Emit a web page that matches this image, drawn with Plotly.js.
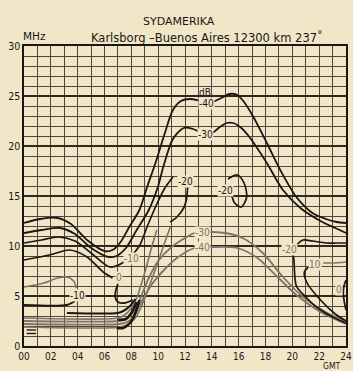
<!DOCTYPE html>
<html><head><meta charset="utf-8">
<script src="https://cdn.plot.ly/plotly-3.0.1.min.js"></script>
<style>html,body{margin:0;padding:0;background:#f2e6c8;}#chart{width:353px;height:371px;}</style>
</head><body><div id="chart"></div>
<script>
// hours (GMT) and frequencies (MHz), one pair per contour line
const hourTicks = [0,1,2,3,4,5,6,7,8,9,10,11,12,13,14,15,16,17,18,19,20,21,22,23,24];
const hourLabels = ['00','','02','','04','','06','','08','','10','','12','','14','','16','','18','','20','','22','','24'];

const m40_h = [0,1.2,2.5,3.5,4.7,6.0,6.6,7.2,7.8,8.6,9.2,9.8,10.5,11.1,11.7,12.4,13.2,14.0,14.7,15.3,15.9,16.4,17.1,18.1,19.1,20.3,21.5,22.5,23.3,24];
const m40_f = [12.3,12.7,12.8,12.2,10.6,9.5,9.6,10.4,11.8,13.6,16.0,18.3,21.3,23.6,24.5,24.7,24.5,24.4,24.8,25.2,25.1,24.4,22.9,20.3,17.6,14.9,13.3,12.7,12.4,12.3];

const m30_h = [0,1.3,2.7,3.8,5.0,6.3,6.9,7.6,8.4,9.3,10.0,10.4,11.1,11.9,12.6,13.3,14.0,14.6,15.1,15.6,16.2,16.8,18.1,19.3,20.6,22.1,23.2,24];
const m30_f = [11.3,11.6,11.8,11.2,9.8,8.9,9.0,9.8,11.6,13.6,16.0,18.0,20.7,21.8,21.7,21.3,21.3,21.9,22.3,22.3,21.8,20.9,18.3,15.6,13.8,12.5,11.8,11.3];

const m20a_h = [0,1.3,2.6,3.8,5.0,6.4,7.2,7.9,8.6,9.2,9.9,10.5,11.1];
const m20a_f = [10.3,10.6,10.9,10.5,9.3,7.9,8.2,8.9,10.0,12.0,14.2,15.8,16.9];
const m20b_h = [12.2,12.1,11.9,11.4,10.9];
const m20b_f = [15.9,14.6,13.8,12.9,12.4];
const m20loop_h = [15.2,15.9,16.4,16.6,16.2,15.7,15.5];
const m20loop_f = [16.7,17.1,16.3,14.9,13.9,14.3,15.0];
const m20r_h = [20.3,20.8,21.5,22.5,23.3,24];
const m20r_f = [10.1,10.6,10.5,10.3,10.3,10.3];
const m20d_h = [20.0,20.1,20.3,21.0,21.8,23.0,24];
const m20d_f = [9.2,8.8,6.0,4.9,3.9,2.9,2.3];

const z0_h = [0,1.9,3.4,4.7,5.9,6.6];
const z0_f = [8.6,9.1,9.6,8.9,7.4,6.8];
const z0curl_h = [7.0,6.85,6.8,7.0,7.5,8.1];
const z0curl_f = [6.2,5.6,4.9,4.4,4.3,4.6];
const z0r_h = [24,23.85,23.8,23.9,24];
const z0r_f = [6.6,6.0,5.2,4.2,3.6];

const p10r_h = [22.3,23.0,24];
const p10r_f = [8.3,8.3,8.4];
const p10d_h = [21.3,20.9,21.1,22.1,23.2,24];
const p10d_f = [8.0,7.4,6.3,4.6,3.2,2.5];

const m10_h = [0,1.5,2.5,3.2,3.7,3.9];
const m10_f = [5.9,6.3,6.8,6.9,6.5,5.8];
const low1_h = [0,3.2,3.8];
const low1_f = [4.1,4.1,4.5];
const low2_h = [3.2,7.0,7.4,7.9,8.3];
const low2_f = [3.3,3.3,3.5,4.0,4.7];

const g30_h = [0,7.0,7.6,8.1,8.5,8.8,9.3,10.0,11.0,12.0,12.7,13.3,14.0,15.0,16.3,17.8,19.3,20.8,22.6,24];
const g30_f = [2.5,2.5,2.7,3.3,4.2,5.2,6.8,8.5,9.9,10.8,11.3,11.4,11.4,11.3,10.8,9.3,6.9,4.9,3.3,2.5];
const g40_h = [0,7.1,7.7,8.2,8.6,9.0,9.6,10.5,11.5,12.7,13.3,14.0,15.9,17.4,18.9,20.3,22.1,24];
const g40_f = [2.2,2.2,2.4,3.0,4.0,5.0,6.3,7.7,8.9,9.8,9.9,9.9,9.8,8.8,6.9,5.1,3.4,2.2];
const g5_h = [0,7.0,7.5,8.0,8.4,8.7,9.1,9.5,9.9];
const g5_f = [2.8,2.8,3.1,3.8,4.8,6.0,7.8,9.8,11.6];
const g6_h = [0,7.2,7.8,8.3,8.7,9.2,9.8,10.4,10.9];
const g6_f = [1.9,1.9,2.2,2.8,3.8,5.5,7.7,10.0,11.9];

const hook1_h = [6.9,7.4,7.9,8.3,8.6];
const hook1_f = [1.8,1.8,2.3,3.3,4.6];
const hook2_h = [7.0,7.6,8.0,8.4];
const hook2_f = [2.6,2.7,3.3,4.4];
const mark1_h = [0.2,0.9]; const mark1_f = [1.6,1.6];
const mark2_h = [0.2,0.9]; const mark2_f = [1.25,1.25];

const labelText = ['dB','-40','-30','-20','-20','-30','-40','-20','10','0','-10','0','-10'];
const labelH    = [13.5,13.6,13.5,12.0,15.0,13.3,13.3,19.8,21.7,23.5,8.0,7.1,4.0];
const labelF    = [25.4,24.3,21.2,16.5,15.6,11.4,9.9,9.7,8.2,5.7,8.8,6.9,5.1];
const labelGrey = [false,false,false,false,false,true,true,true,true,true,true,true,false];

const yTickVals = [0,5,10,15,20,25,30];
const yTickText = ['0','5','10','15','20','25','30'];

const BG = '#f2e6c8';
const INK = '#1c1612';
const GREY = '#7d7366';
const GRID = '#51463b';

function line(h, f, color, width) {
  return {x: h, y: f, type: 'scatter', mode: 'lines', hoverinfo: 'skip',
          line: {color: color, width: width, shape: 'spline', smoothing: 0.8}};
}

const traces = [
  line(g30_h, g30_f, GREY, 1.8),
  line(g40_h, g40_f, GREY, 1.8),
  line(g5_h, g5_f, GREY, 1.6),
  line(g6_h, g6_f, GREY, 1.6),
  line(m10_h, m10_f, GREY, 1.6),
  line(p10r_h, p10r_f, GREY, 1.6),
  line(m40_h, m40_f, INK, 1.8),
  line(m30_h, m30_f, INK, 1.8),
  line(m20a_h, m20a_f, INK, 1.7),
  line(m20b_h, m20b_f, INK, 1.7),
  line(m20loop_h, m20loop_f, INK, 1.7),
  line(m20r_h, m20r_f, INK, 1.7),
  line(m20d_h, m20d_f, INK, 1.7),
  line(z0_h, z0_f, INK, 1.7),
  line(z0curl_h, z0curl_f, INK, 1.8),
  line(z0r_h, z0r_f, INK, 1.7),
  line(p10d_h, p10d_f, INK, 1.7),
  line(low1_h, low1_f, INK, 2.0),
  line(low2_h, low2_f, INK, 2.0),
  line(hook1_h, hook1_f, INK, 2.6),
  line(hook2_h, hook2_f, INK, 2.6),
  line(mark1_h, mark1_f, INK, 1.4),
  line(mark2_h, mark2_f, INK, 1.4)
];

const FONT = 'DejaVu Sans Condensed, Liberation Sans Narrow, sans-serif';
const TFONT = 'DejaVu Sans, sans-serif';
const annotations = labelText.map((t, i) => ({
  x: labelH[i], y: labelF[i], xref: 'x', yref: 'y', text: t, showarrow: false,
  font: {family: FONT, size: 10, color: labelGrey[i] ? GREY : INK},
  bgcolor: t === 'dB' ? 'rgba(0,0,0,0)' : BG, borderpad: 0
}));
annotations.push(
  {xref:'paper', yref:'paper', x:0.481, y:1.08, yanchor:'middle', text:'SYDAMERIKA', showarrow:false,
   font:{family:TFONT, size:11, color:INK}},
  {xref:'paper', yref:'paper', x:0.568, y:1.027, yanchor:'middle', text:'Karlsborg \u2013Buenos Aires 12300 km 237\u02da', showarrow:false,
   font:{family:TFONT, size:11.5, color:INK}},
  {xref:'paper', yref:'paper', x:-0.01, y:1.033, yanchor:'middle', text:'MHz', showarrow:false,
   font:{family:TFONT, size:10.5, color:INK}},
  {xref:'paper', yref:'paper', x:0.99, y:-0.066, yanchor:'middle', text:'GMT', showarrow:false,
   font:{family:FONT, size:8.5, color:INK}}
);

const layout = {
  width: 353, height: 371,
  margin: {l: 24, r: 7, t: 46, b: 25},
  paper_bgcolor: BG, plot_bgcolor: BG,
  showlegend: false,
  xaxis: {range: [0, 24], tickmode: 'array', tickvals: hourTicks, ticktext: hourLabels,
          showgrid: true, gridcolor: GRID, gridwidth: 1,
          showline: true, mirror: true, linecolor: INK, linewidth: 1.6,
          zeroline: false, ticks: '',
          tickfont: {family: FONT, size: 10, color: INK}},
  yaxis: {range: [0, 30], tickmode: 'array', tickvals: yTickVals, ticktext: yTickText,
          showgrid: true, gridcolor: '#30281f', gridwidth: 1.5,
          minor: {dtick: 1, showgrid: true, gridcolor: GRID, gridwidth: 1},
          showline: true, mirror: true, linecolor: INK, linewidth: 1.6,
          zeroline: false, ticks: '',
          tickfont: {family: FONT, size: 10.5, color: INK}},
  annotations: annotations
};

Plotly.newPlot('chart', traces, layout, {displayModeBar: false, staticPlot: true});
</script></body></html>
